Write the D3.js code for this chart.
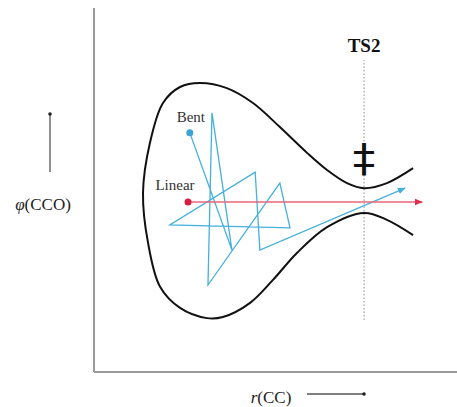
<!DOCTYPE html>
<html>
<head>
<meta charset="utf-8">
<script src="https://cdn.jsdelivr.net/npm/d3@7"></script>
<style>
  html, body { margin: 0; padding: 0; background: #fff; }
  svg { display: block; }
</style>
</head>
<body>
<svg id="chart" width="457" height="407"></svg>
<script>
// Potential-energy contour around the bent/linear region and the TS2 bottleneck
// (coordinates in r(CC), phi(CCO) units, 0-100 on each axis)
const contourR   = [87.9, 80.7, 74.4, 69.7, 64.2, 58.7, 51.2, 43.8, 36.6, 29.2, 23.7, 19.0, 15.4, 13.5, 14.9, 18.2, 23.7, 31.1, 35.5, 43.0, 49.3, 55.9, 64.2, 74.4, 80.7, 87.9];
const contourPhi = [56.0, 51.9, 50.5, 51.9, 55.5, 60.2, 67.3, 73.9, 78.0, 79.4, 78.3, 73.9, 62.9, 49.2, 35.4, 23.4, 17.6, 14.8, 15.1, 19.0, 25.3, 32.7, 39.8, 43.7, 41.8, 37.6];

// Trajectory starting from the bent geometry
const bentR   = [26.4, 38.0, 32.5, 31.4, 51.2, 54.0, 20.9, 44.4, 45.7, 85.7];
const bentPhi = [65.7, 33.5, 71.2, 23.9, 51.9, 39.6, 40.4, 54.9, 33.5, 50.5];

// Trajectory starting from the linear geometry
const linearR   = [25.9, 90.4];
const linearPhi = [46.7, 46.7];

// Transition-state dividing line
const tsR = 74.4;
const tsPhiRange = [14.3, 85.7];

const labels = { bent: "Bent", linear: "Linear", ts: "TS2", mark: "\u2021" };

const svg = d3.select("#chart");
const x = d3.scaleLinear().domain([0, 100]).range([94, 457]);
const y = d3.scaleLinear().domain([0, 100]).range([372, 8]);

const serif = "'Liberation Serif', 'Times New Roman', serif";

const defs = svg.append("defs");
function arrowMarker(id, color, size) {
  defs.append("marker")
    .attr("id", id)
    .attr("viewBox", "0 0 10 10")
    .attr("refX", 9).attr("refY", 5)
    .attr("markerWidth", size).attr("markerHeight", size)
    .attr("markerUnits", "userSpaceOnUse")
    .attr("orient", "auto")
    .append("path")
    .attr("d", "M0,1 L10,5 L0,9 Z")
    .attr("fill", color);
}
arrowMarker("arrowRed", "#e0304d", 8);
arrowMarker("arrowBlue", "#45b0dc", 8);

// Axes frame
svg.append("line")
  .attr("x1", x(0)).attr("x2", x(0))
  .attr("y1", y(0)).attr("y2", y(100))
  .attr("stroke", "#9a9a9a").attr("stroke-width", 2);
svg.append("line")
  .attr("x1", x(0)).attr("x2", x(100))
  .attr("y1", y(0)).attr("y2", y(0))
  .attr("stroke", "#9a9a9a").attr("stroke-width", 2);

// TS2 dividing line
svg.append("line")
  .attr("x1", x(tsR)).attr("x2", x(tsR))
  .attr("y1", y(tsPhiRange[0])).attr("y2", y(tsPhiRange[1]))
  .attr("stroke", "#8a8a8a").attr("stroke-width", 1)
  .attr("stroke-dasharray", "1.5,2");

// Contour
const contour = contourR.map((r, i) => [r, contourPhi[i]]);
svg.append("path")
  .datum(contour)
  .attr("d", d3.line().x(d => x(d[0])).y(d => y(d[1])).curve(d3.curveCatmullRom.alpha(0.5)))
  .attr("fill", "none")
  .attr("stroke", "#111")
  .attr("stroke-width", 2);

// Bent trajectory
const bent = bentR.map((r, i) => [r, bentPhi[i]]);
svg.append("path")
  .datum(bent)
  .attr("d", d3.line().x(d => x(d[0])).y(d => y(d[1])))
  .attr("fill", "none")
  .attr("stroke", "#45b0dc")
  .attr("stroke-width", 1.3)
  .attr("stroke-linejoin", "miter")
  .attr("marker-end", "url(#arrowBlue)");
svg.append("circle")
  .attr("cx", x(bentR[0])).attr("cy", y(bentPhi[0])).attr("r", 3.5)
  .attr("fill", "#3aa6d6");

// Linear trajectory
svg.append("line")
  .attr("x1", x(linearR[0])).attr("x2", x(linearR[1]))
  .attr("y1", y(linearPhi[0])).attr("y2", y(linearPhi[1]))
  .attr("stroke", "#e8667c").attr("stroke-width", 1.6)
  .attr("marker-end", "url(#arrowRed)");
svg.append("circle")
  .attr("cx", x(linearR[0])).attr("cy", y(linearPhi[0])).attr("r", 3.5)
  .attr("fill", "#d81e3e");

// Labels
svg.append("text")
  .attr("x", x(bentR[0]) + 1).attr("y", y(bentPhi[0]) - 11)
  .attr("text-anchor", "middle")
  .attr("font-family", serif).attr("font-size", 15).attr("fill", "#333")
  .text(labels.bent);
svg.append("text")
  .attr("x", x(linearR[0]) - 13).attr("y", y(linearPhi[0]) - 12)
  .attr("text-anchor", "middle")
  .attr("font-family", serif).attr("font-size", 15).attr("fill", "#333")
  .text(labels.linear);
svg.append("text")
  .attr("x", x(tsR)).attr("y", 52)
  .attr("text-anchor", "middle")
  .attr("font-family", serif).attr("font-size", 19).attr("font-weight", "bold").attr("fill", "#111")
  .text(labels.ts);
// Double-dagger marking the transition state, widened to match its bars
svg.append("text")
  .attr("transform", `translate(${x(tsR)},172) scale(1.5,1.3)`)
  .attr("text-anchor", "middle")
  .attr("font-family", "'DejaVu Sans', sans-serif").attr("font-size", 30).attr("fill", "#111")
  .text(labels.mark);

// Axis titles with direction arrows
const yTitle = svg.append("text")
  .attr("x", 43).attr("y", 210)
  .attr("text-anchor", "middle")
  .attr("font-family", serif).attr("font-size", 17).attr("fill", "#222");
yTitle.append("tspan").attr("font-style", "italic").text("\u03C6");
yTitle.append("tspan").text("(CCO)");

svg.append("line")
  .attr("x1", 50).attr("x2", 50).attr("y1", 172).attr("y2", 113)
  .attr("stroke", "#555").attr("stroke-width", 1.3);
svg.append("circle").attr("cx", 50).attr("cy", 114).attr("r", 1.8).attr("fill", "#222");

const xTitle = svg.append("text")
  .attr("x", 271).attr("y", 403)
  .attr("text-anchor", "middle")
  .attr("font-family", serif).attr("font-size", 17).attr("fill", "#222");
xTitle.append("tspan").attr("font-style", "italic").text("r");
xTitle.append("tspan").text("(CC)");

svg.append("line")
  .attr("x1", 307).attr("x2", 365).attr("y1", 394).attr("y2", 394)
  .attr("stroke", "#555").attr("stroke-width", 1.3);
svg.append("circle").attr("cx", 364).attr("cy", 394).attr("r", 1.8).attr("fill", "#222");
</script>
</body>
</html>
